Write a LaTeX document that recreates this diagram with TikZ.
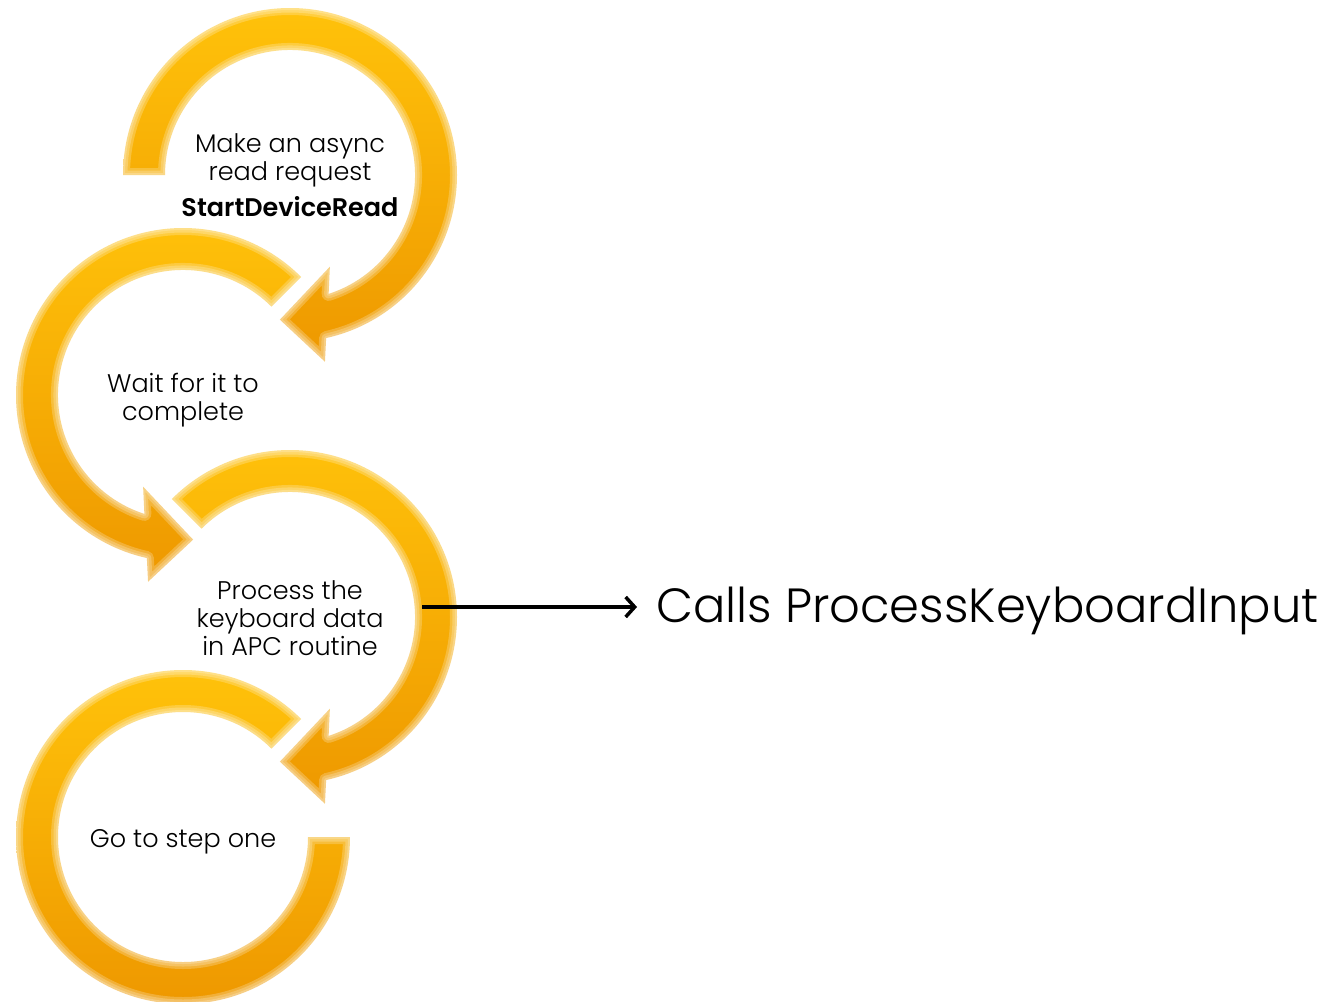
\documentclass[tikz,border=0pt]{standalone}
\usepackage{fontspec}
\setmainfont{Poppins}[UprightFont={* Light}, BoldFont={* SemiBold}]
\usetikzlibrary{arrows.meta}
\definecolor{ringtop}{HTML}{FFC20A}
\definecolor{ringbot}{HTML}{EE9800}
\tikzset{
  ring/.style={top color=ringtop, bottom color=ringbot, draw=none,
    postaction={draw=white, opacity=0.22, line width=14pt, line join=round},
    postaction={draw=white, opacity=0.22, line width=9pt, line join=round},
    postaction={draw=white, opacity=0.22, line width=4pt, line join=round}},
  lbl/.style={align=center, font=\fontsize{25.5}{28}\selectfont, text=black, inner sep=0pt},
  bigtext/.style={anchor=west, font=\fontsize{48}{54}\selectfont, text=black, inner sep=0pt},
  link/.style={line width=3.5pt, -{Straight Barb[length=9pt,width=20pt]}, shorten >=19pt},
}
\begin{document}
\begin{tikzpicture}[x=1pt, y=-1pt]
\useasboundingbox (0,0) rectangle (1343,1001);
% ring 1
\begin{scope}[shift={(290,175)}]
  \path[ring] (180:167) arc[start angle=180, end angle=437.5, radius=167]
    -- (439.4:190) -- (454:145) -- (426.5:100) -- (432:125)
    arc[start angle=432, end angle=180, radius=125] -- cycle;
\end{scope}
% ring 2
\begin{scope}[shift={(183,395)}]
  \path[ring] (315:167) arc[start angle=315, end angle=102.5, radius=167]
    -- (100.6:190) -- (86:145) -- (113.5:100) -- (108:125)
    arc[start angle=108, end angle=315, radius=125] -- cycle;
\end{scope}
% ring 3
\begin{scope}[shift={(290,617)}]
  \path[ring] (225:167) arc[start angle=225, end angle=437.5, radius=167]
    -- (439.4:190) -- (454:145) -- (426.5:100) -- (432:125)
    arc[start angle=432, end angle=225, radius=125] -- cycle;
\end{scope}
% ring 4
\begin{scope}[shift={(183,837)}]
  \path[ring] (0:167) arc[start angle=0, end angle=315, radius=167]
    -- (315:125) arc[start angle=315, end angle=0, radius=125] -- cycle;
\end{scope}
\node[lbl] (t1) at (290,175) {Make an async\\read request\\[8pt]\textbf{StartDeviceRead}};
\node[lbl] (t2) at (183,400) {Wait for it to\\complete};
\node[lbl] (t3) at (290,618) {Process the\\keyboard data\\in APC routine};
\node[lbl] (t4) at (183,842) {Go to step one};
\coordinate (src) at (422,607);
\node[bigtext] (calls) at (656,611) {Calls ProcessKeyboardInput};
\draw[link] (src) -- (src -| calls.west);
\end{tikzpicture}
\end{document}
